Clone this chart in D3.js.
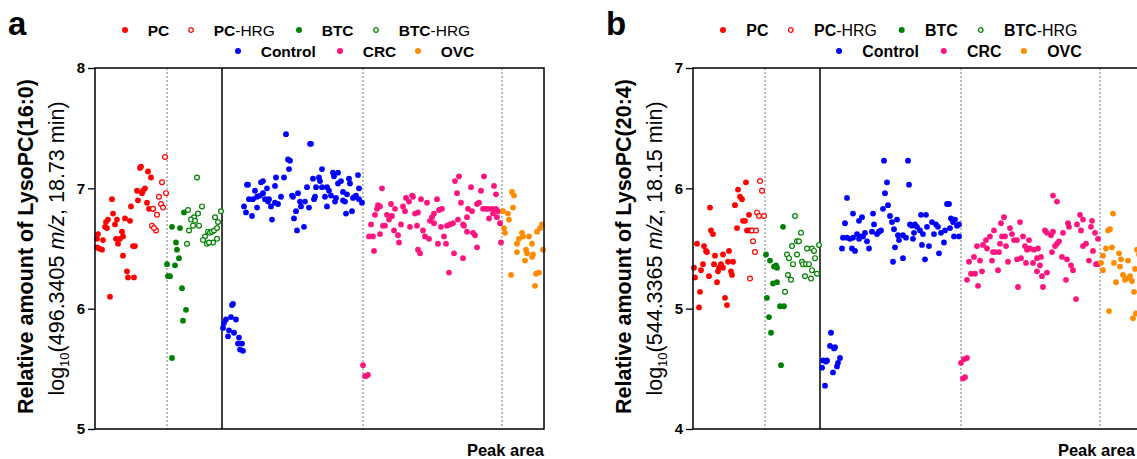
<!DOCTYPE html>
<html>
<head>
<meta charset="utf-8">
<script src="https://cdn.jsdelivr.net/npm/d3@7"></script>
<style>
  body { margin: 0; background: #fff; }
  text { font-family: "Liberation Sans", Arial, sans-serif; }
</style>
</head>
<body>
<div id="chart"></div>
<script>
// sample position along the run (x) and log10 peak area (y)
const pcA = [[45,7.17],[46,7.18],[53,7.14],[56,7.09],[50,7.0],[48,6.98],[42,6.98],[47,6.96],[43,6.9],[17,6.91],[36,6.85],[52,6.88],[54,6.83],[58,6.83],[18,6.79],[13,6.74],[11,6.72],[10,6.68],[12,6.67],[20,6.7],[22,6.74],[30,6.75],[35,6.73],[3,6.62],[2,6.58],[8,6.57],[4,6.5],[7,6.49],[21,6.58],[23,6.54],[27,6.64],[28,6.6],[25,6.58],[38,6.52],[40,6.52],[28,6.44],[32,6.31],[33,6.26],[39,6.26],[15,6.1],[2,6.51]];
const pcHrgA = [[70,7.26],[71,6.96],[67,7.05],[64,6.93],[66,6.87],[68,6.84],[62,6.78],[58,6.83],[57,6.69],[61,6.65],[59,6.67]];
const btcA = [[77,6.68],[85,6.67],[89,6.8],[81,6.55],[82,6.49],[84,6.42],[72,6.37],[80,6.36],[73,6.27],[75,6.27],[87,6.17],[91,5.99],[88,5.9],[77,5.59]];
const btcHrgA = [[102,7.09],[93,6.82],[107,6.85],[103,6.79],[99,6.76],[96,6.74],[100,6.73],[98,6.69],[94,6.65],[104,6.69],[92,6.54],[110,6.6],[108,6.57],[112,6.54],[113,6.64],[115,6.63],[117,6.64],[119,6.65],[122,6.67],[120,6.76],[123,6.72],[126,6.81],[122,6.58],[118,6.55],[114,6.55]];
const controlA = [[191,7.45],[215,7.37],[216,7.37],[193,7.24],[195,7.23],[194,7.16],[189,7.09],[181,7.09],[168,7.06],[166,7.05],[152,7.03],[153,7.03],[160,6.98],[172,7.0],[180,7.02],[168,6.96],[165,6.94],[162,6.93],[158,6.91],[154,6.91],[149,6.85],[151,6.8],[157,6.77],[162,6.84],[170,6.91],[174,6.91],[176,6.85],[180,6.88],[183,6.87],[186,6.93],[177,6.74],[173,6.89],[197,6.94],[198,6.93],[203,6.96],[199,6.75],[202,6.65],[209,6.68],[201,6.81],[206,6.85],[205,6.89],[210,6.89],[214,6.84],[212,7.01],[218,7.08],[221,7.01],[224,7.09],[227,7.16],[225,7.06],[227,7.01],[232,7.01],[234,6.98],[230,6.93],[220,6.93],[219,6.91],[232,6.85],[236,6.94],[239,7.1],[238,7.13],[243,7.13],[246,7.06],[243,7.04],[241,6.92],[240,6.89],[248,6.97],[252,6.95],[248,6.9],[250,6.89],[254,7.08],[255,7.04],[251,6.79],[257,6.81],[258,6.92],[261,6.94],[263,7.11],[264,7.0],[264,6.91],[267,6.88],[260,6.93],
  [137,6.03],[138,6.04],[136,5.93],[131,5.91],[129,5.88],[128,5.84],[134,5.82],[141,5.91],[133,5.77],[139,5.8],[144,5.76],[143,5.71],[147,5.71],[145,5.66],[148,5.65]];
const crcA = [[287,7.0],[283,6.86],[285,6.85],[282,6.83],[280,6.78],[276,6.7],[278,6.6],[274,6.6],[279,6.48],[285,6.62],[292,6.78],[294,6.74],[288,6.69],[297,6.77],[290,6.69],[299,6.65],[296,6.87],[300,6.83],[303,6.61],[304,6.55],[306,6.7],[308,6.85],[311,6.92],[310,6.81],[314,6.89],[317,6.94],[318,6.93],[315,6.68],[320,6.79],[322,6.69],[323,6.8],[326,6.91],[332,6.88],[328,6.65],[330,6.6],[334,6.58],[323,6.49],[325,6.46],[335,6.73],[339,6.71],[337,6.76],[339,6.79],[342,6.91],[344,6.82],[347,6.83],[346,6.68],[349,6.6],[343,6.54],[351,6.54],[354,6.3],[352,6.69],[355,6.7],[358,6.71],[359,6.46],[360,7.06],[364,7.1],[362,6.96],[366,6.88],[363,6.74],[368,6.7],[369,6.69],[372,6.76],[368,6.42],[373,6.83],[376,7.01],[377,6.81],[372,6.64],[378,6.63],[380,6.61],[382,6.51],[382,6.87],[384,6.88],[386,6.98],[389,7.1],[388,6.83],[391,6.83],[393,6.83],[397,6.83],[401,6.83],[399,7.02],[401,6.95],[394,6.75],[398,6.79],[402,6.76],[405,6.71],[406,6.55],[403,6.81],
  [268,5.53],[270,5.44],[271,5.44],[273,5.45]];
const ovcA = [[417,6.97],[419,6.94],[418,6.84],[408,6.81],[413,6.79],[414,6.74],[409,6.67],[410,6.63],[422,6.54],[424,6.58],[427,6.63],[428,6.6],[434,6.6],[422,6.47],[431,6.49],[432,6.46],[437,6.43],[438,6.45],[430,6.4],[437,6.54],[442,6.64],[445,6.67],[447,6.7],[448,6.49],[416,6.28],[441,6.29],[444,6.3],[440,6.19]];

const pcB = [[53,6.05],[45,5.99],[47,5.93],[49,5.91],[42,5.86],[17,5.84],[56,5.78],[50,5.73],[52,5.73],[44,5.67],[54,5.65],[57,5.65],[18,5.65],[20,5.62],[4,5.54],[11,5.52],[13,5.48],[14,5.47],[30,5.45],[36,5.48],[22,5.44],[40,5.39],[35,5.39],[21,5.37],[28,5.37],[26,5.34],[30,5.34],[25,5.31],[10,5.37],[1,5.34],[8,5.32],[2,5.26],[16,5.27],[38,5.31],[39,5.28],[24,5.22],[7,5.14],[32,5.09],[34,5.03],[6,5.01]];
const pcHrgB = [[67,6.06],[69,5.98],[64,5.8],[66,5.77],[71,5.77],[59,5.65],[63,5.65],[60,5.56],[62,5.47],[57,5.25]];
const btcB = [[90,5.68],[73,5.45],[77,5.4],[83,5.36],[84,5.34],[81,5.35],[80,5.21],[84,5.22],[74,5.09],[87,5.02],[91,5.02],[76,4.93],[78,4.8],[88,4.53]];
const btcHrgB = [[102,5.77],[108,5.63],[99,5.52],[104,5.56],[106,5.56],[94,5.45],[96,5.42],[104,5.45],[100,5.37],[109,5.39],[110,5.37],[113,5.37],[116,5.37],[114,5.5],[119,5.5],[121,5.48],[122,5.42],[126,5.53],[119,5.32],[124,5.29],[112,5.27],[118,5.25],[95,5.28],[98,5.24],[92,5.14]];
const controlB = [[154,5.92],[160,5.79],[152,5.71],[150,5.59],[154,5.59],[157,5.58],[160,5.59],[164,5.62],[167,5.6],[166,5.58],[170,5.6],[169,5.76],[166,5.73],[172,5.63],[174,5.56],[176,5.5],[159,5.5],[162,5.48],[149,5.5],[180,5.79],[181,5.7],[179,5.64],[184,5.62],[186,5.64],[188,5.65],[190,5.83],[192,5.96],[194,6.05],[195,5.86],[197,5.77],[199,5.72],[204,5.74],[201,5.66],[205,5.61],[206,5.57],[202,5.51],[200,5.39],[210,5.42],[191,6.23],[215,6.23],[216,6.03],[217,5.7],[219,5.69],[222,5.7],[224,5.68],[227,5.65],[221,5.63],[220,5.58],[213,5.59],[210,5.61],[228,5.78],[233,5.78],[230,5.62],[234,5.68],[239,5.72],[243,5.7],[241,5.62],[236,5.52],[229,5.53],[232,5.41],[245,5.68],[248,5.63],[251,5.55],[246,5.46],[252,5.65],[254,5.87],[256,5.87],[258,5.75],[260,5.72],[262,5.74],[264,5.69],[266,5.7],[257,5.67],[261,5.6],[266,5.6],
  [138,4.8],[137,4.69],[141,4.67],[142,4.68],[130,4.57],[134,4.57],[133,4.56],[147,4.59],[145,4.55],[144,4.52],[129,4.51],[140,4.47],[132,4.36]];
const crcB = [[274,5.24],[276,5.39],[278,5.29],[281,5.43],[282,5.29],[285,5.19],[284,5.52],[287,5.4],[289,5.31],[290,5.53],[293,5.57],[294,5.5],[297,5.6],[299,5.4],[301,5.65],[300,5.47],[302,5.47],[305,5.32],[306,5.47],[308,5.71],[311,5.76],[309,5.6],[312,5.6],[307,5.54],[313,5.52],[315,5.39],[317,5.67],[319,5.62],[321,5.57],[324,5.57],[327,5.72],[325,5.18],[324,5.41],[328,5.42],[330,5.6],[332,5.52],[334,5.49],[336,5.57],[333,5.38],[340,5.38],[337,5.5],[341,5.49],[345,5.5],[344,5.42],[348,5.43],[347,5.36],[344,5.31],[349,5.27],[350,5.18],[354,5.3],[352,5.65],[354,5.63],[358,5.61],[360,5.64],[359,5.47],[362,5.52],[364,5.54],[360,5.94],[364,5.89],[366,5.56],[370,5.63],[369,5.43],[373,5.24],[374,5.41],[376,5.68],[375,5.71],[378,5.36],[380,5.32],[383,5.08],[384,5.7],[387,5.78],[390,5.74],[388,5.65],[390,5.52],[393,5.54],[396,5.4],[399,5.73],[398,5.68],[400,5.48],[402,5.63],[403,5.37],[405,5.37],[405,5.58],
  [268,4.55],[271,4.58],[274,4.59],[270,4.42],[272,4.43]];
const ovcB = [[420,5.79],[417,5.66],[415,5.65],[413,5.5],[419,5.51],[410,5.44],[408,5.38],[410,5.32],[421,5.38],[426,5.46],[428,5.41],[427,5.35],[435,5.4],[430,5.28],[437,5.27],[434,5.25],[439,5.23],[432,5.24],[423,5.22],[441,5.14],[444,5.49],[416,4.98],[440,4.92],[443,4.96],[442,5.33],[446,5.45]];

const groupNames = ["PC", "PC-HRG", "BTC", "BTC-HRG", "Control", "CRC", "OVC"];
const groupColors = ["#ff0000", "#ff0000", "#008000", "#008000", "#0000ff", "#ff1480", "#ff8c00"];
const groupOpen = [false, true, false, true, false, false, false];
const dividers = [72, 127, 268, 407];   // the one at 127 is solid
const yTicksA = [5, 6, 7, 8];
const yTicksB = [4, 5, 6, 7];

const W = 1137, H = 459;
const plotW = 449, plotH = 361, plotTop = 68;

const svg = d3.select("#chart")
    .append("svg")
    .attr("width", W)
    .attr("height", H);

function drawPanel(opts) {
    const { left, letter, yTicks, series, label1, mz, rt, legendScale } = opts;

    const x = d3.scaleLinear().domain([0, plotW]).range([left, left + plotW]);
    const y = d3.scaleLinear().domain([yTicks[0], yTicks[3]]).range([plotTop + plotH, plotTop]);

    const g = svg.append("g");

    // divider lines
    g.selectAll(".div")
        .data(dividers)
        .enter()
        .append("line")
        .attr("x1", d => x(d)).attr("x2", d => x(d))
        .attr("y1", plotTop).attr("y2", plotTop + plotH)
        .style("stroke", (d, i) => i == 1 ? "#000" : "#777")
        .style("stroke-width", (d, i) => i == 1 ? 1.5 : 1)
        .style("stroke-dasharray", (d, i) => i == 1 ? null : "2,2");

    // points
    series.forEach((pts, i) => {
        g.append("g")
            .selectAll("circle")
            .data(pts)
            .enter()
            .append("circle")
            .attr("cx", d => x(d[0]))
            .attr("cy", d => y(d[1]))
            .attr("r", groupOpen[i] ? 2.4 : 2.9)
            .style("fill", groupOpen[i] ? "#fff" : groupColors[i])
            .style("stroke", groupColors[i])
            .style("stroke-width", groupOpen[i] ? 1.2 : 0);
    });

    // frame
    g.append("rect")
        .attr("x", left).attr("y", plotTop)
        .attr("width", plotW).attr("height", plotH)
        .style("fill", "none")
        .style("stroke", "#000")
        .style("stroke-width", 1.5);

    const axis = g.append("g")
        .attr("transform", `translate(${left},0)`)
        .call(d3.axisLeft(y).tickValues(yTicks).tickSize(7).tickPadding(3).tickFormat(d3.format("d")));
    axis.select(".domain").remove();
    axis.selectAll("line").style("stroke", "#000").style("stroke-width", 1.3);
    axis.selectAll("text")
        .style("font-family", "Liberation Sans, Arial, sans-serif")
        .style("font-size", "15px")
        .style("font-weight", "bold")
        .style("fill", "#000");

    // y axis title, two lines
    const cy = plotTop + plotH / 2 - 2;
    g.append("text")
        .attr("transform", `translate(${left - 62},${cy}) rotate(-90)`)
        .attr("text-anchor", "middle")
        .style("font-size", "21.5px")
        .style("font-weight", "bold")
        .text(label1);

    const t2 = g.append("text")
        .attr("transform", `translate(${left - 31},${cy + 2}) rotate(-90)`)
        .attr("text-anchor", "middle")
        .style("font-size", "21.5px");
    t2.append("tspan").text("log");
    t2.append("tspan").attr("dy", 5).style("font-size", "13px").text("10");
    t2.append("tspan").attr("dy", -5).text(`(${mz} `);
    t2.append("tspan").style("font-style", "italic").text("m/z");
    t2.append("tspan").text(`, ${rt} min)`);

    // panel letter
    g.append("text")
        .attr("x", left - 87)
        .attr("y", 35)
        .style("font-size", "33px")
        .style("font-weight", "bold")
        .text(letter);

    // x label (kept inside the window for panel b)
    g.append("text")
        .attr("x", Math.min(left + plotW, W - 2))
        .attr("y", 456)
        .attr("text-anchor", "end")
        .style("font-size", "16.5px")
        .style("font-weight", "bold")
        .text("Peak area");

    // legend
    const dotX = [30, 96, 204, 281, 143, 245, 323];
    const rowY = [30, 51];
    groupNames.forEach((name, i) => {
        const lx = left + 30 + (dotX[i] - 30) * legendScale;
        const ly = rowY[i < 4 ? 0 : 1];
        const item = g.append("g").attr("transform", `translate(${lx},${ly})`);
        item.append("circle")
            .attr("r", groupOpen[i] ? 2.3 : 3)
            .style("fill", groupOpen[i] ? "#fff" : groupColors[i])
            .style("stroke", groupColors[i])
            .style("stroke-width", groupOpen[i] ? 1.3 : 0);
        const parts = name.split("-");
        const tx = item.append("text")
            .attr("x", 22.7 * legendScale)
            .attr("y", 5.5)
            .style("font-size", (15.5 * legendScale) + "px");
        tx.append("tspan").style("font-weight", "bold").text(parts[0]);
        if (parts[1]) tx.append("tspan").text("-" + parts[1]);
    });
}

drawPanel({
    left: 95, letter: "a", yTicks: yTicksA,
    series: [pcA, pcHrgA, btcA, btcHrgA, controlA, crcA, ovcA],
    label1: "Relative amount of LysoPC(16:0)", mz: "496.3405", rt: "18.73",
    legendScale: 1
});

drawPanel({
    left: 693, letter: "b", yTicks: yTicksB,
    series: [pcB, pcHrgB, btcB, btcHrgB, controlB, crcB, ovcB],
    label1: "Relative amount of LysoPC(20:4)", mz: "544.3365", rt: "18.15",
    legendScale: 1.027
});
</script>
</body>
</html>
